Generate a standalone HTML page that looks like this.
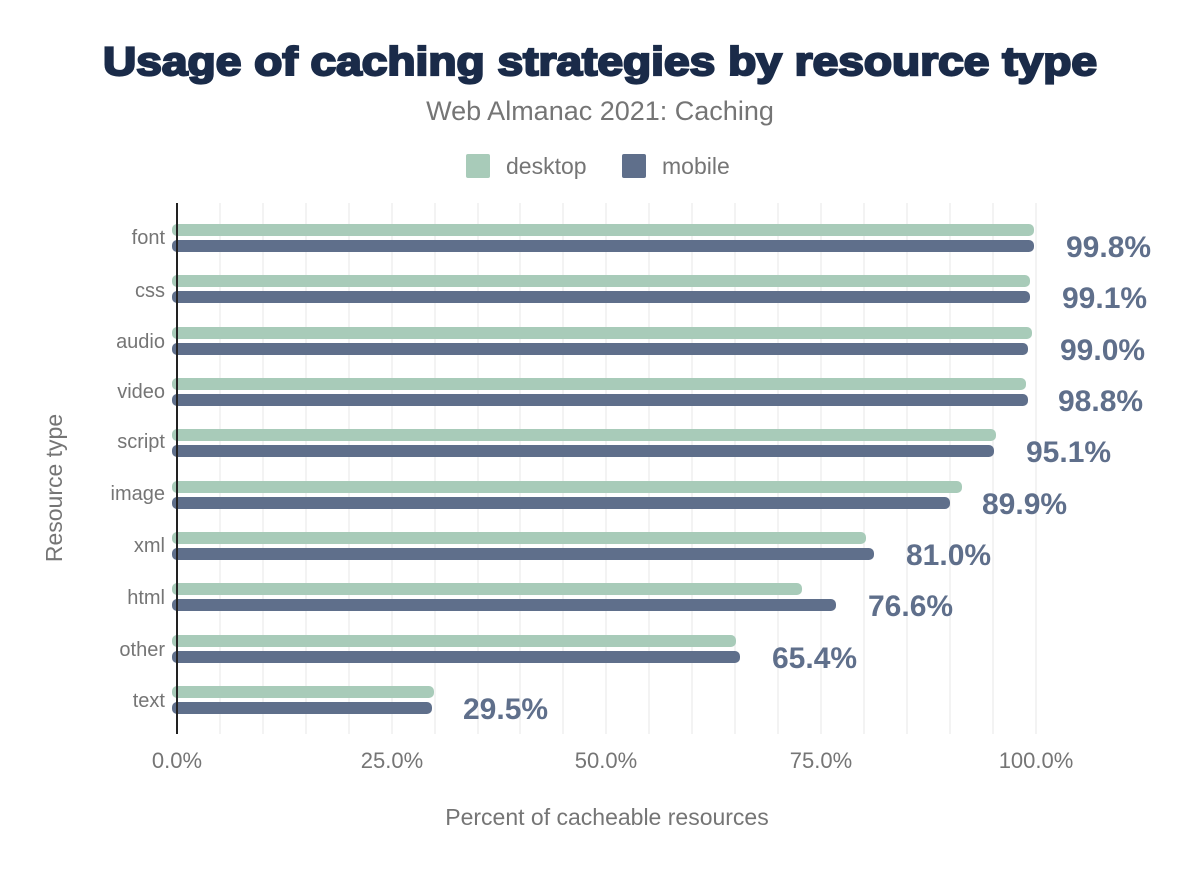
<!DOCTYPE html>
<html><head><meta charset="utf-8"><style>
body{margin:0;background:#fff;}
svg text{font-family:"Liberation Sans",Arial,sans-serif;}
</style></head><body>
<svg width="1200" height="872" viewBox="0 0 1200 872" xmlns="http://www.w3.org/2000/svg">
<rect width="1200" height="872" fill="#fff"/>
<text x="103" y="75" textLength="994" lengthAdjust="spacingAndGlyphs" font-size="40" font-weight="900" fill="#1a2b49" stroke="#1a2b49" stroke-width="2.2">Usage of caching strategies by resource type</text>
<text x="600" y="120" text-anchor="middle" font-size="27" fill="#757575">Web Almanac 2021: Caching</text>
<rect x="466" y="154" width="24" height="24" rx="2" fill="#a8cbb9"/>
<text x="506" y="174" font-size="23" fill="#757575">desktop</text>
<rect x="622" y="154" width="24" height="24" rx="2" fill="#5f6f8b"/>
<text x="662" y="174" font-size="23" fill="#757575">mobile</text>
<g stroke="#efefef" stroke-width="1.5">
<line x1="220" y1="203" x2="220" y2="734"/><line x1="263" y1="203" x2="263" y2="734"/><line x1="306" y1="203" x2="306" y2="734"/><line x1="349" y1="203" x2="349" y2="734"/><line x1="392" y1="203" x2="392" y2="734"/><line x1="435" y1="203" x2="435" y2="734"/><line x1="478" y1="203" x2="478" y2="734"/><line x1="520" y1="203" x2="520" y2="734"/><line x1="563" y1="203" x2="563" y2="734"/><line x1="606" y1="203" x2="606" y2="734"/><line x1="649" y1="203" x2="649" y2="734"/><line x1="692" y1="203" x2="692" y2="734"/><line x1="735" y1="203" x2="735" y2="734"/><line x1="778" y1="203" x2="778" y2="734"/><line x1="821" y1="203" x2="821" y2="734"/><line x1="864" y1="203" x2="864" y2="734"/><line x1="907" y1="203" x2="907" y2="734"/><line x1="950" y1="203" x2="950" y2="734"/><line x1="993" y1="203" x2="993" y2="734"/><line x1="1036" y1="203" x2="1036" y2="734"/>
</g>
<g font-size="20" fill="#757575" text-anchor="end">
<text x="165" y="244">font</text><text x="165" y="297">css</text><text x="165" y="348">audio</text><text x="165" y="398">video</text><text x="165" y="448">script</text><text x="165" y="500">image</text><text x="165" y="552">xml</text><text x="165" y="604">html</text><text x="165" y="656">other</text><text x="165" y="707">text</text>
</g>
<g fill="#a8cbb9">
<rect x="172" y="224" width="862" height="12" rx="5"/>
<rect x="172" y="275" width="858" height="12" rx="5"/>
<rect x="172" y="327" width="860" height="12" rx="5"/>
<rect x="172" y="378" width="854" height="12" rx="5"/>
<rect x="172" y="429" width="824" height="12" rx="5"/>
<rect x="172" y="481" width="790" height="12" rx="5"/>
<rect x="172" y="532" width="694" height="12" rx="5"/>
<rect x="172" y="583" width="630" height="12" rx="5"/>
<rect x="172" y="635" width="564" height="12" rx="5"/>
<rect x="172" y="686" width="262" height="12" rx="5"/>
</g>
<g fill="#5f6f8b">
<rect x="172" y="240" width="862" height="12" rx="5"/>
<rect x="172" y="291" width="858" height="12" rx="5"/>
<rect x="172" y="343" width="856" height="12" rx="5"/>
<rect x="172" y="394" width="856" height="12" rx="5"/>
<rect x="172" y="445" width="822" height="12" rx="5"/>
<rect x="172" y="497" width="778" height="12" rx="5"/>
<rect x="172" y="548" width="702" height="12" rx="5"/>
<rect x="172" y="599" width="664" height="12" rx="5"/>
<rect x="172" y="651" width="568" height="12" rx="5"/>
<rect x="172" y="702" width="260" height="12" rx="5"/>
</g>
<line x1="177" y1="203" x2="177" y2="734" stroke="#222" stroke-width="2"/>
<g font-size="30" font-weight="bold" fill="#5f6f8b">
<text x="1066" y="257">99.8%</text>
<text x="1062" y="308">99.1%</text>
<text x="1060" y="360">99.0%</text>
<text x="1058" y="411">98.8%</text>
<text x="1026" y="462">95.1%</text>
<text x="982" y="514">89.9%</text>
<text x="906" y="565">81.0%</text>
<text x="868" y="616">76.6%</text>
<text x="772" y="668">65.4%</text>
<text x="463" y="719">29.5%</text>
</g>
<g font-size="22" fill="#757575" text-anchor="middle">
<text x="177" y="768">0.0%</text><text x="392" y="768">25.0%</text><text x="606" y="768">50.0%</text><text x="821" y="768">75.0%</text><text x="1036" y="768">100.0%</text>
</g>
<text x="607" y="825" text-anchor="middle" font-size="23" fill="#757575">Percent of cacheable resources</text>
<text transform="translate(62,488) rotate(-90)" text-anchor="middle" font-size="23" fill="#757575">Resource type</text>
</svg>
</body></html>
